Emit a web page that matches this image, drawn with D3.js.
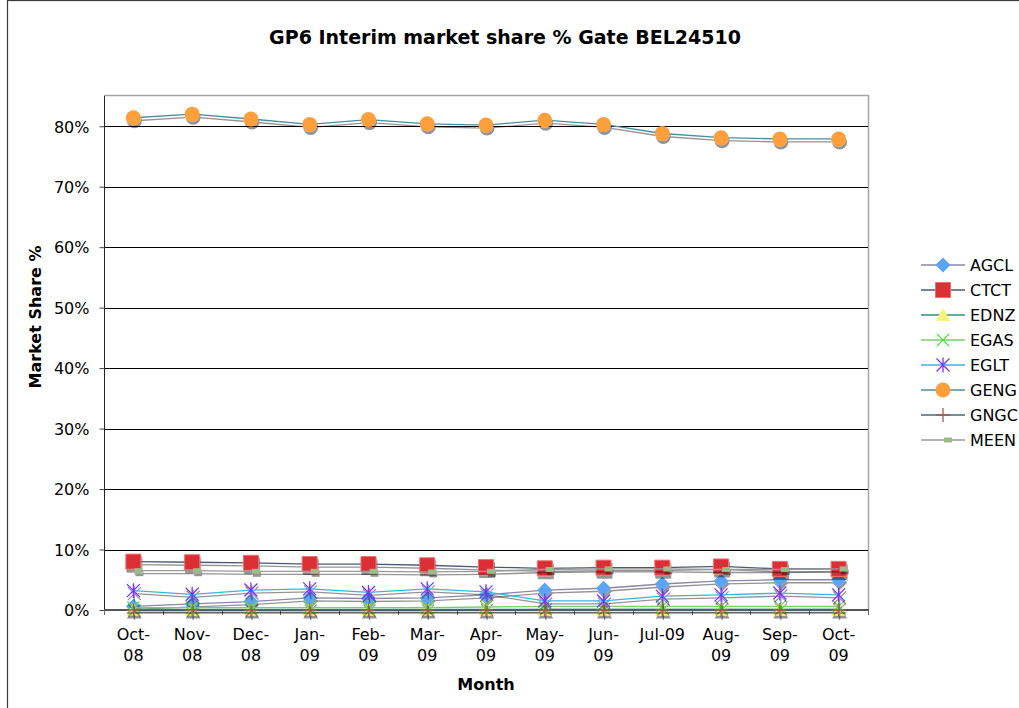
<!DOCTYPE html>
<html>
<head>
<meta charset="utf-8">
<script src="https://cdn.jsdelivr.net/npm/d3@7"></script>
<style>
  body { margin: 0; background: #fff; }
  svg { display: block; font-family: 'DejaVu Sans', Verdana, sans-serif; }
</style>
</head>
<body>
<div id="chart"></div>
<script>
// values, in percent
const months = ['Oct-08', 'Nov-08', 'Dec-08', 'Jan-09', 'Feb-09', 'Mar-09', 'Apr-09',
  'May-09', 'Jun-09', 'Jul-09', 'Aug-09', 'Sep-09', 'Oct-09']
const monthLabels = [['Oct-', '08'], ['Nov-', '08'], ['Dec-', '08'], ['Jan-', '09'], ['Feb-', '09'],
  ['Mar-', '09'], ['Apr-', '09'], ['May-', '09'], ['Jun-', '09'], ['Jul-09'], ['Aug-', '09'],
  ['Sep-', '09'], ['Oct-', '09']]
const seriesNames = ['AGCL', 'CTCT', 'EDNZ', 'EGAS', 'EGLT', 'GENG', 'GNGC', 'MEEN']

const agcl = [0.6, 1.0, 1.4, 2.0, 1.9, 2.0, 2.5, 3.3, 3.6, 4.3, 4.8, 5.0, 5.0]
const ctct = [8.0, 7.9, 7.8, 7.6, 7.6, 7.4, 7.1, 6.9, 7.0, 7.0, 7.2, 6.8, 6.8]
const ednz = [0.1, 0.1, 0.1, 0.1, 0.1, 0.1, 0.1, 0.1, 0.1, 0.1, 0.1, 0.1, 0.1]
const egas = [0.4, 0.4, 0.4, 0.4, 0.4, 0.4, 0.5, 0.6, 0.6, 0.6, 0.6, 0.6, 0.6]
const eglt = [3.2, 2.6, 3.3, 3.5, 2.9, 3.5, 3.0, 1.5, 1.5, 2.3, 2.5, 2.8, 2.5]
const geng = [81.4, 82.0, 81.2, 80.3, 81.1, 80.4, 80.2, 81.0, 80.3, 78.8, 78.1, 77.9, 77.9]
const gngc = [0.0, 0.0, 0.0, 0.0, 0.0, 0.0, 0.0, 0.0, 0.0, 0.0, 0.0, 0.0, 0.0]
const meen = [6.5, 6.5, 6.4, 6.4, 6.4, 6.3, 6.4, 6.7, 6.8, 6.8, 6.7, 6.7, 6.8]

const yTicks = [0, 10, 20, 30, 40, 50, 60, 70, 80]
const yMax = 85

const seriesValues = { AGCL: agcl, CTCT: ctct, EDNZ: ednz, EGAS: egas, EGLT: eglt, GENG: geng, GNGC: gngc, MEEN: meen }

// looks per series
const looks = {
  AGCL: { line: '#8d86a6', marker: 'diamond', fill: '#5ba4f4' },
  CTCT: { line: '#4c5878', marker: 'square', fill: '#dc2f36', stroke: '#ea7070' },
  EDNZ: { line: '#2f8f7f', marker: 'triangle', fill: '#fff07a' },
  EGAS: { line: '#7ccc6a', marker: 'x', stroke: '#55dd44' },
  EGLT: { line: '#3ab4e0', marker: 'star', stroke: '#7733ff' },
  GENG: { line: '#4c8ca3', marker: 'circle', fill: '#ffa03c' },
  GNGC: { line: '#466878', marker: 'plus', stroke: '#a05a5a' },
  MEEN: { line: '#9a9a9a', marker: 'dash', fill: '#9cbb88' },
}

const markerPaths = {
  diamond: 'M0,-7.5L7.5,0L0,7.5L-7.5,0Z',
  square: 'M-7.5,-7.5H7.5V7.5H-7.5Z',
  triangle: 'M0,-7L7.5,6H-7.5Z',
  x: 'M-6,-6L6,6M-6,6L6,-6',
  star: 'M-6.5,-6.5L6.5,6.5M-6.5,6.5L6.5,-6.5M0,-7.5V7.5',
  circle: 'M7.5,0A7.5,7.5 0 1 1 -7.5,0A7.5,7.5 0 1 1 7.5,0Z',
  plus: 'M0,-7V7M-7,0H7',
  dash: 'M1,-2.5H9V2.5H1Z',
}

const width = 1019
const height = 708
const plot = { left: 104, top: 96, right: 868, bottom: 610 }

const x = d3.scaleBand().domain(months).range([plot.left, plot.right])
const y = d3.scaleLinear().domain([0, yMax]).range([plot.bottom, plot.top])

const svg = d3.select('#chart')
  .append('svg')
  .attr('width', width)
  .attr('height', height)

const defs = svg.append('defs')
const filter = defs.append('filter')
  .attr('id', 'shadow')
  .attr('filterUnits', 'userSpaceOnUse')
  .attr('x', 0).attr('y', 0).attr('width', width).attr('height', height)
filter.append('feDropShadow')
  .attr('dx', 1).attr('dy', 3)
  .attr('stdDeviation', 0.6)
  .attr('flood-color', '#000')
  .attr('flood-opacity', 0.42)

// chart area frame
svg.append('rect')
  .attr('x', 7.5).attr('y', 0.5)
  .attr('width', 1200).attr('height', 900)
  .attr('fill', '#fff')
  .attr('stroke', '#3a3a3a')
  .attr('stroke-width', 1.2)

// title
svg.append('text')
  .attr('x', 505).attr('y', 44)
  .attr('text-anchor', 'middle')
  .attr('font-size', 19)
  .attr('font-weight', 'bold')
  .text('GP6 Interim market share % Gate BEL24510')

// plot area border (top and right)
svg.append('path')
  .attr('d', `M${plot.left},${plot.top - 0.5}H${plot.right + 0.5}V${plot.bottom}`)
  .attr('fill', 'none')
  .attr('stroke', '#a6a6a6')
  .attr('stroke-width', 1.5)

// gridlines
svg.append('g')
  .selectAll('line')
  .data(yTicks.filter(t => t > 0))
  .enter()
  .append('line')
  .attr('x1', plot.left).attr('x2', plot.right)
  .attr('y1', d => Math.round(y(d)) + 0.5)
  .attr('y2', d => Math.round(y(d)) + 0.5)
  .attr('stroke', '#000')

// y axis
const yAxis = svg.append('g')
  .attr('transform', `translate(${plot.left + 0.5},0)`)
  .call(d3.axisLeft(y).tickValues(yTicks).tickFormat(d => d + '%').tickSize(5).tickPadding(10))
yAxis.select('.domain').attr('d', `M0,${plot.top}V${plot.bottom}`).attr('stroke', '#222')
yAxis.selectAll('.tick line').attr('stroke', '#444')
yAxis.selectAll('.tick text')
  .attr('font-size', 16)
  .attr('fill', '#000')
  .attr('dy', '0.36em')
yAxis.attr('font-family', null)

// x axis
const edges = months.map(m => x(m)).concat([plot.right])
const xAxis = svg.append('g')
xAxis.append('line')
  .attr('x1', plot.left).attr('x2', plot.right + 1)
  .attr('y1', plot.bottom).attr('y2', plot.bottom)
  .attr('stroke', '#555')
  .attr('stroke-width', 2)
xAxis.selectAll('.edge')
  .data(edges)
  .enter()
  .append('line')
  .attr('class', 'edge')
  .attr('x1', d => Math.round(d) + 0.5).attr('x2', d => Math.round(d) + 0.5)
  .attr('y1', plot.bottom).attr('y2', plot.bottom + 5)
  .attr('stroke', '#666')
const xLabels = xAxis.selectAll('.lab')
  .data(months)
  .enter()
  .append('text')
  .attr('class', 'lab')
  .attr('text-anchor', 'middle')
  .attr('font-size', 16)
xLabels.selectAll('tspan')
  .data((d, i) => monthLabels[i].map(t => ({ t, m: d })))
  .enter()
  .append('tspan')
  .attr('x', d => x(d.m) + x.bandwidth() / 2)
  .attr('y', (d, i) => 640 + i * 21)
  .text(d => d.t)

// axis titles
svg.append('text')
  .attr('x', (plot.left + plot.right) / 2).attr('y', 690)
  .attr('text-anchor', 'middle')
  .attr('font-size', 16)
  .attr('font-weight', 'bold')
  .text('Month')
svg.append('text')
  .attr('transform', 'translate(41,317) rotate(-90)')
  .attr('text-anchor', 'middle')
  .attr('font-size', 16)
  .attr('font-weight', 'bold')
  .text('Market Share %')

// series
const line = d3.line()
  .x((d, i) => x(months[i]) + x.bandwidth() / 2)
  .y(d => y(d))

function drawMarker(g, name, cx, cy) {
  const look = looks[name]
  const isStroke = ['x', 'star', 'plus'].includes(look.marker)
  g.append('path')
    .attr('d', markerPaths[look.marker])
    .attr('transform', `translate(${cx},${cy})`)
    .attr('fill', isStroke ? 'none' : look.fill)
    .attr('stroke', isStroke ? look.stroke : (look.stroke || 'none'))
    .attr('stroke-width', isStroke ? 1.3 : 1)
}

seriesNames.forEach(name => {
  const values = seriesValues[name]
  const g = svg.append('g').attr('filter', 'url(#shadow)')
  g.append('path')
    .datum(values)
    .attr('d', line)
    .attr('fill', 'none')
    .attr('stroke', looks[name].line)
    .attr('stroke-width', 1.3)
  values.forEach((v, i) => drawMarker(g, name, x(months[i]) + x.bandwidth() / 2, y(v)))
})

// legend
const legend = svg.append('g')
seriesNames.forEach((name, i) => {
  const ly = 265 + i * 25
  const g = legend.append('g')
  g.append('line')
    .attr('x1', 921).attr('x2', 965)
    .attr('y1', ly).attr('y2', ly)
    .attr('stroke', looks[name].line)
    .attr('stroke-width', 1.3)
  drawMarker(g, name, 943, ly)
  legend.append('text')
    .attr('x', 970).attr('y', ly + 6)
    .attr('font-size', 16)
    .text(name)
})
</script>
</body>
</html>
